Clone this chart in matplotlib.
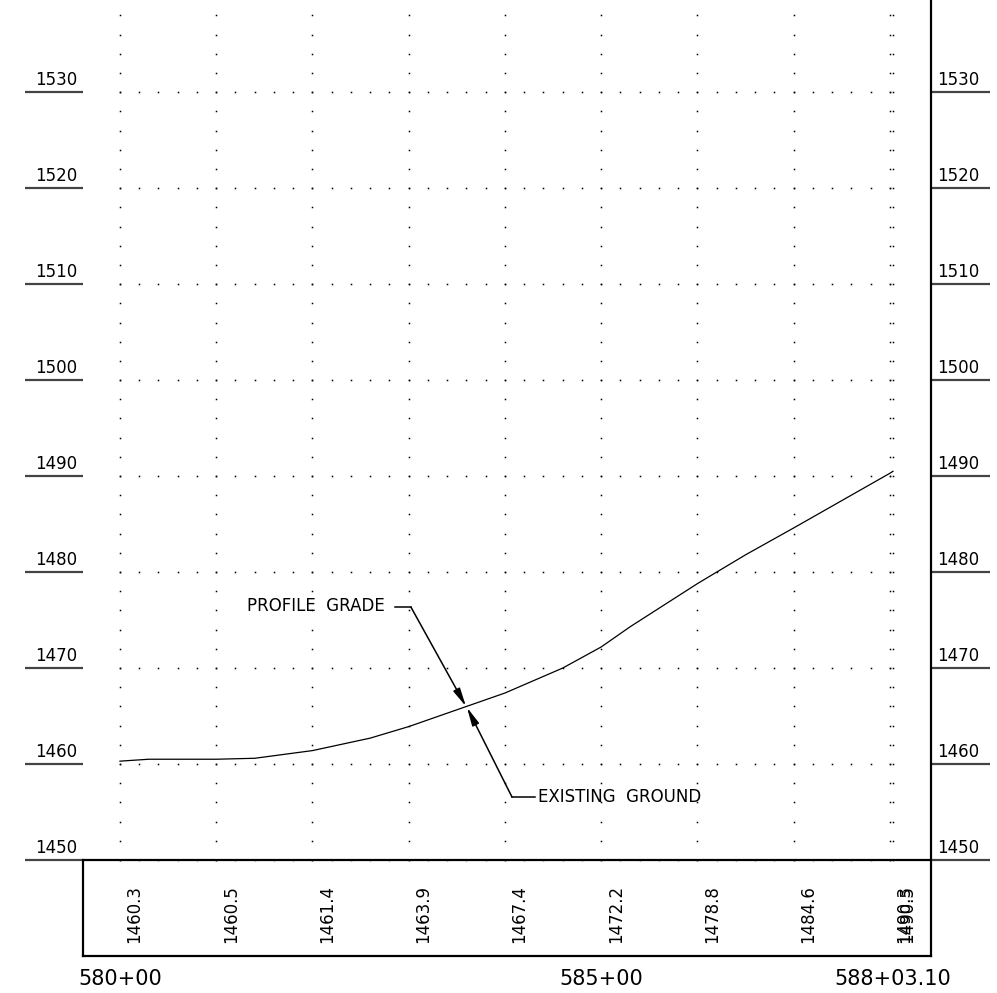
import numpy as np
import matplotlib
matplotlib.use("Agg")
import matplotlib.pyplot as plt

# profile data (station in ft from 580+00, elevation in ft)
stations = [0, 30, 100, 140, 200, 260, 300, 360, 400, 460, 500, 530, 600, 650, 700, 800, 803.1]
elevations = [1460.3, 1460.5, 1460.5, 1460.6, 1461.4, 1462.7, 1463.9, 1466.0, 1467.4,
              1470.0, 1472.2, 1474.3, 1478.8, 1481.8, 1484.6, 1490.3, 1490.5]

# labelled stations in the bottom band
label_stations = [0, 100, 200, 300, 400, 500, 600, 700, 800, 803.1]
label_values = ["1460.3", "1460.5", "1461.4", "1463.9", "1467.4",
                "1472.2", "1478.8", "1484.6", "1490.3", "1490.5"]

station_ticks = [0, 500, 803.1]
station_text = ["580+00", "585+00", "588+03.10"]

elev_ticks = [1450, 1460, 1470, 1480, 1490, 1500, 1510, 1520, 1530]

W, H = 997, 993
fig = plt.figure(figsize=(W / 100, H / 100), dpi=100)
ax = fig.add_axes([83 / W, (H - 956) / H, 848 / W, 956 / H])
ax.set_xlim(-38.4, 842.6)
ax.set_ylim(1440, 1539.6)
ax.set_xticks([])
ax.set_yticks([])
ax.spines["top"].set_visible(False)
ax.spines["left"].set_bounds(1440, 1450)
for s in ["left", "right", "bottom"]:
    ax.spines[s].set_linewidth(1.6)
ax.axhline(1450, color="black", lw=1.6, zorder=3)

# dotted grid
grid_x = [0, 100, 200, 300, 400, 500, 600, 700, 800, 803.1]
vy = np.arange(1450, 1539, 2)
for gx in grid_x:
    ax.plot(np.full(len(vy), gx), vy, ls="none", marker="s", ms=1.1, mew=0,
            color="black", zorder=1)
hx = np.arange(0, 801, 20)
for ev in elev_ticks:
    ax.plot(hx, np.full(len(hx), ev), ls="none", marker="s", ms=1.1, mew=0,
            color="black", zorder=1)

# profile line
ax.plot(stations, elevations, color="black", lw=0.9, zorder=2)

# elevation labels both sides
for ev in elev_ticks:
    ax.hlines(ev, -98.7, -38.4, color="#444444", lw=1.6, clip_on=False)
    ax.hlines(ev, 842.6, 903.9, color="#444444", lw=1.6, clip_on=False)
    ax.text(-44.7, ev + 0.35, str(ev), ha="right", va="bottom", fontsize=12,
            clip_on=False)
    ax.text(848.8, ev + 0.35, str(ev), ha="left", va="bottom", fontsize=12,
            clip_on=False)

# values in the bottom band
for st, lab in zip(label_stations, label_values):
    ax.annotate(lab, (st, 1444.4), xytext=(4, 0), textcoords="offset points",
                rotation=90, ha="left", va="center", fontsize=12)

# station labels
for st, lab in zip(station_ticks, station_text):
    ax.text(st, 1437.6, lab, ha="center", va="center", fontsize=15, clip_on=False)

# callouts
arrow = dict(arrowstyle="-|>,head_length=1.1,head_width=0.22", color="black",
             lw=1.1, shrinkA=0, shrinkB=0)
ax.plot([285.7, 302.3], [1476.35, 1476.35], color="black", lw=1.1)
ax.annotate("", xy=(359.5, 1466.0), xytext=(302.3, 1476.35), arrowprops=arrow)
ax.text(275.3, 1476.45, "PROFILE  GRADE", ha="right", va="center", fontsize=12)

ax.plot([407.3, 431.2], [1456.56, 1456.56], color="black", lw=1.1)
ax.annotate("", xy=(360.5, 1465.9), xytext=(407.3, 1456.56), arrowprops=arrow)
ax.text(434.3, 1456.56, "EXISTING  GROUND", ha="left", va="center", fontsize=12)

fig.savefig("out.png", dpi=100, facecolor="white")
